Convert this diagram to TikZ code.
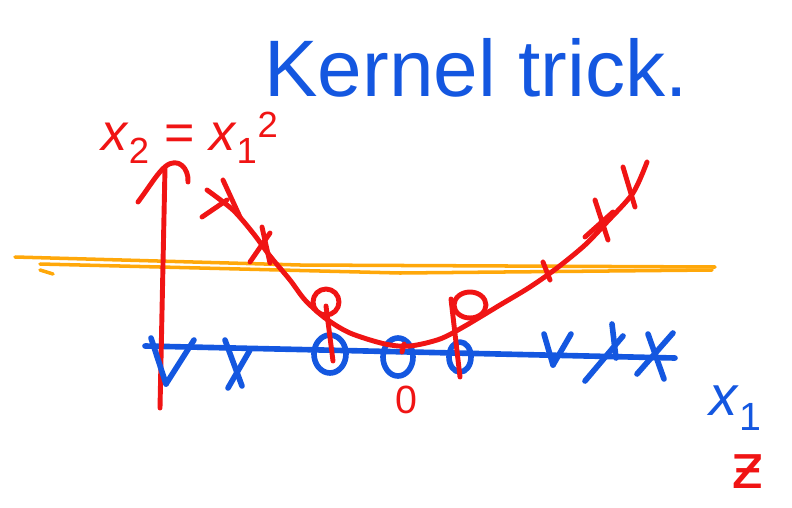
\documentclass[tikz,border=0pt]{standalone}
\usepackage{fontspec}
\setmainfont{Liberation Sans}
\newfontfamily\zfont{DejaVu Sans}
\definecolor{ink}{HTML}{1457E0}
\definecolor{pen}{HTML}{F01414}
\definecolor{marker}{HTML}{FFA80A}

\begin{document}
\begin{tikzpicture}[x=0.025cm, y=-0.025cm,
    blueink/.style={draw=ink, line width=4pt, line cap=round, line join=round},
    redink/.style={draw=pen, line width=3.5pt, line cap=round, line join=round},
    orangeink/.style={draw=marker, line width=2.5pt, line cap=round, line join=round},
    scrawl/.style={inner sep=0pt, anchor=base}]
  \useasboundingbox (0,0) rectangle (792,508);

  % title and labels
  \node[scrawl, text=ink, font=\fontsize{57}{59}\selectfont] (title) at (476,96) {Kernel trick.};
  \node[inner sep=0pt, text=pen, font=\fontsize{37}{39}\selectfont] (rel) at (190,138)
    {\textit{x}\textsubscript{2} = \textit{x}\textsubscript{1}\textsuperscript{2}};
  \node[inner sep=0pt, text=ink, font=\fontsize{40}{42}\selectfont] (xlabel) at (736,408)
    {\textit{x}\textsubscript{1}};
  \node[inner sep=0pt, text=pen, font=\zfont\fontsize{44}{46}\selectfont] (zlabel) at (748,472) {ƶ};
  \node[inner sep=0pt, text=pen, font=\fontsize{28}{30}\selectfont] (origin) at (406,400) {0};

  % separating line
  \draw[orangeink] (15,257) -- (300,265) -- (715,267);
  \draw[orangeink] (40,264) -- (400,273) -- (712,270);
  \draw[orangeink] (40,270) -- (53,274);

  % axes
  \draw[blueink] (145,346) -- (675,358);
  \draw[redink] (160,408) -- (165,168);
  \draw[redink] (138,202) .. controls (150,186) and (158,172) .. (166,166)
    .. controls (178,157) and (189,168) .. (188,182);

  % points on the line
  \foreach \a/\b/\c/\d in {151/338/166/384, 166/384/194/340, 225/340/242/386, 228/388/250/350,
      544/334/553/365, 553/365/571/334, 612/324/616/358, 585/381/623/336,
      648/334/664/379, 637/374/673/333}
    \draw[blueink] (\a,\b) -- (\c,\d);
  \draw[blueink] (330,354) ellipse [x radius=16, y radius=19];
  \draw[blueink] (398,357) ellipse [x radius=15, y radius=19];
  \draw[blueink] (460,357) ellipse [x radius=11, y radius=15];

  % lifted curve
  \draw[redink] plot[smooth] coordinates {(207,190) (233,210) (253,233) (270,256) (290,280)
    (305,300) (325,318) (350,333) (385,344) (410,346) (440,339) (465,326) (500,305)
    (530,287) (557,268) (585,245) (607,222) (633,193) (647,162)};
  \foreach \a/\b/\c/\d in {223/180/240/217, 202/217/227/200, 262/227/270/263, 250/262/270/233,
      543/262/550/280, 595/200/608/240, 585/237/613/212, 623/167/635/207}
    \draw[redink] (\a,\b) -- (\c,\d);
  \draw[redink] (326,302) circle [radius=13];
  \draw[redink] (470,305) ellipse [x radius=16, y radius=13];
  \draw[redink] (326,306) -- (333,361);
  \draw[redink] (451,299) -- (460,377);
  \draw[redink] (404,344) -- (402,352);
\end{tikzpicture}
\end{document}
